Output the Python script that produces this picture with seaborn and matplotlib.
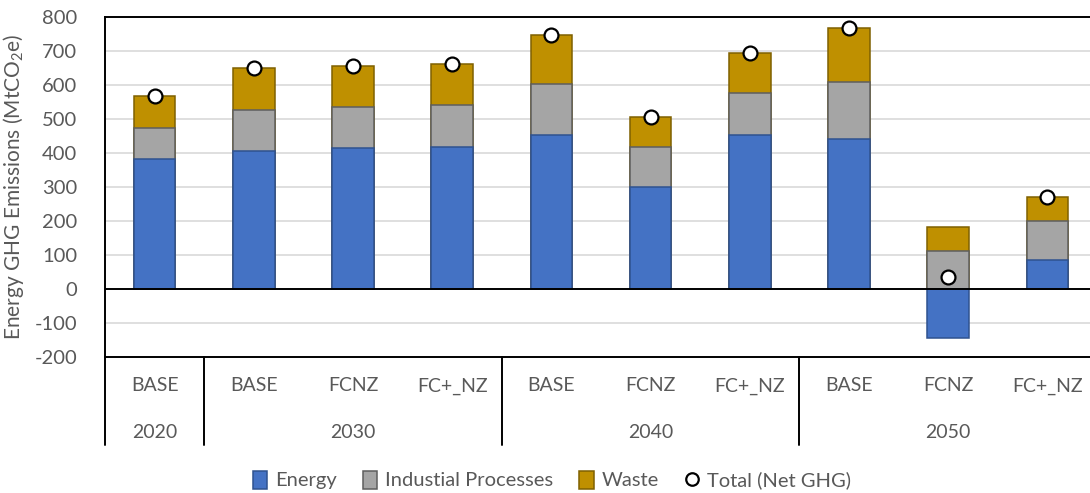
import matplotlib
matplotlib.use("Agg")
import matplotlib.pyplot as plt
from matplotlib.patches import Patch
from matplotlib.lines import Line2D
import matplotlib.transforms as mtransforms
import numpy as np
import pandas as pd
import seaborn as sns

# Emissions by scenario (MtCO2e)
years = ["2020", "2030", "2030", "2030", "2040", "2040", "2040", "2050", "2050", "2050"]
scenarios = ["BASE", "BASE", "FCNZ", "FC+_NZ", "BASE", "FCNZ", "FC+_NZ", "BASE", "FCNZ", "FC+_NZ"]
energy = [383, 405, 416, 418, 454, 300, 452, 440, -146, 84]
industrial = [92, 121, 120, 123, 149, 118, 125, 169, 111, 115]
waste = [93, 125, 121, 121, 145, 88, 117, 160, 71, 73]
net_total = [568, 651, 657, 662, 748, 506, 694, 769, 36, 272]

year_groups = ["2020", "2030", "2040", "2050"]

C_ENERGY, E_ENERGY = "#4472C4", "#2F528F"
C_IND, E_IND = "#A5A5A5", "#5E5E5E"
C_WASTE, E_WASTE = "#BF9000", "#7F6000"
TEXT = "#595959"

sns.set_theme(style="white")
plt.rcParams["font.family"] = ["Lato", "DejaVu Sans"]
plt.rcParams["mathtext.fontset"] = "custom"
plt.rcParams["mathtext.rm"] = "Lato"
plt.rcParams["mathtext.it"] = "Lato"
plt.rcParams["axes.unicode_minus"] = False

df = pd.DataFrame({
    "case": [f"{y} {s}" for y, s in zip(years, scenarios)],
    "energy": energy,
    "industrial": industrial,
    "waste": waste,
    "total": net_total,
})
# positive components stack on top of any positive energy value
base = df["energy"].clip(lower=0)
df["ind_top"] = base + df["industrial"]
df["waste_top"] = df["ind_top"] + df["waste"]

fig = plt.figure(figsize=(10.9, 4.93), dpi=100)
ax = fig.add_axes([105 / 1090, 136.3 / 493, 992 / 1090, 339.4 / 493])

bar_kw = dict(width=0.42, saturation=1, errorbar=None, linewidth=1.1, ax=ax, zorder=3)
sns.barplot(data=df, x="case", y="waste_top", color=C_WASTE, edgecolor=E_WASTE, **bar_kw)
sns.barplot(data=df, x="case", y="ind_top", color=C_IND, edgecolor=E_IND, **bar_kw)
sns.barplot(data=df, x="case", y="energy", color=C_ENERGY, edgecolor=E_ENERGY, **bar_kw)
sns.stripplot(data=df, x="case", y="total", jitter=False, color="white", edgecolor="black",
              linewidth=1.6, size=10, ax=ax, zorder=5)

ax.set_xlim(-0.5, len(df) - 0.5)
ax.set_ylim(-200, 800)
ax.set_yticks(np.arange(-200, 801, 100))
ax.yaxis.grid(True, color="#D9D9D9", linewidth=1.2, zorder=0)
ax.set_axisbelow(True)
ax.axhline(0, color="black", linewidth=1.4, zorder=4)
ax.tick_params(axis="y", length=0, labelsize=14.5, labelcolor=TEXT, pad=20)
ax.set_xticks([])
ax.set_xlabel("")
ax.set_ylabel("Energy GHG Emissions (MtCO$_2$e)", fontsize=15, color=TEXT, labelpad=6)

for side in ["top", "left", "bottom"]:
    ax.spines[side].set_color("black")
    ax.spines[side].set_linewidth(1.4)
ax.spines["right"].set_visible(False)

# category table below the plot area
trans = mtransforms.blended_transform_factory(ax.transData, ax.transAxes)
table_bottom = -0.26
for xsep in [-0.5, 0.5, 3.5, 6.5]:
    ax.plot([xsep, xsep], [0, table_bottom], color="black", linewidth=1.4,
            transform=trans, clip_on=False)
for i, s in enumerate(scenarios):
    ax.text(i, -0.086, s, transform=trans, ha="center", va="center",
            fontsize=14, color=TEXT)
for g in year_groups:
    idx = [i for i, y in enumerate(years) if y == g]
    ax.text(np.mean(idx), -0.222, g, transform=trans, ha="center", va="center",
            fontsize=14, color=TEXT)

handles = [
    Patch(facecolor=C_ENERGY, edgecolor=E_ENERGY, linewidth=1.1, label="Energy"),
    Patch(facecolor=C_IND, edgecolor=E_IND, linewidth=1.1, label="Industial Processes"),
    Patch(facecolor=C_WASTE, edgecolor=E_WASTE, linewidth=1.1, label="Waste"),
    Line2D([], [], marker="o", linestyle="none", markerfacecolor="white",
           markeredgecolor="black", markeredgewidth=1.6, markersize=9, label="Total (Net GHG)"),
]
fig.legend(handles=handles, loc="center", bbox_to_anchor=(552 / 1090, 1 - 480 / 493),
           ncol=4, frameon=False, fontsize=14.5, labelcolor=TEXT,
           handlelength=0.7, handleheight=1.0, handletextpad=0.4, columnspacing=1.3)

fig.savefig("out.png", dpi=100)
